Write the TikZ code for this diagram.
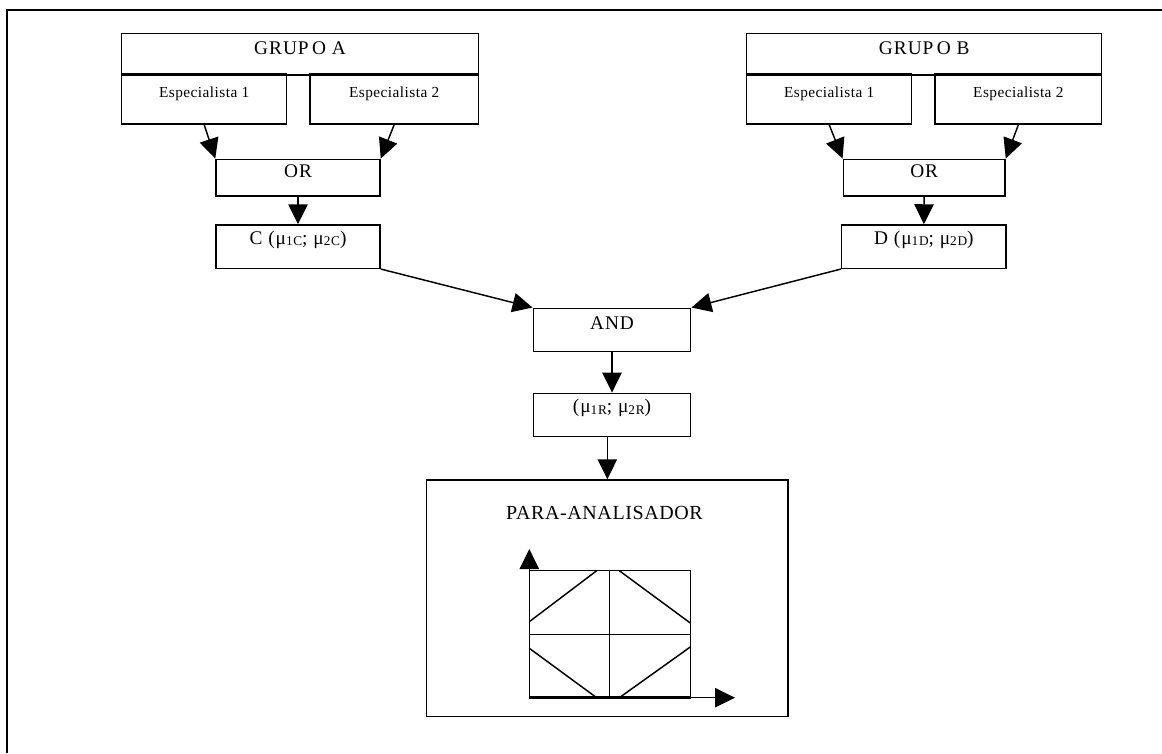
\documentclass[tikz,border=0pt]{standalone}
\usepackage{fontspec}
\setmainfont{Liberation Serif}[LetterSpace=5]
\newfontfamily\smallfont{Liberation Serif}[LetterSpace=3]
\newfontfamily\titlefont{Liberation Serif}[LetterSpace=3]
\usetikzlibrary{arrows.meta,fit}
\newcommand{\mysub}[1]{{\fontsize{10pt}{10pt}\selectfont\raisebox{-1pt}{#1}}}
\tikzset{
  box/.style={draw, line width=1.1pt, inner sep=0pt},
  big/.style={font=\fontsize{14.5pt}{16pt}\selectfont, text height=9.5pt, text depth=0pt},
  small/.style={font=\smallfont\fontsize{11.5pt}{12pt}\selectfont, text height=7.5pt, text depth=0pt},
  arr/.style={-{Triangle[length=15pt,width=14.5pt]}, line width=1.1pt},
}
\begin{document}
\begin{tikzpicture}[x=0.75pt,y=-0.75pt]
\useasboundingbox (0,0) rectangle (1162,753);
% outer frame (only top and left edges visible)
\draw[line width=1.3pt] (7,753) -- (7,10) -- (1162,10);

% Group A
\node[box,big,fit={(121.7,33.3)(478.3,75)}] (gA) {GRUP\kern2.5pt O A};
\node[box,small,fit={(121.7,74)(286.7,124)}] (a1) {Especialista 1};
\node[box,small,fit={(310,74)(478.3,124)}] (a2) {Especialista 2};
\node[box,big,fit={(216,159.3)(380,196)}] (orA) {OR};
\node[box,big,fit={(216,225)(380,268.3)}] (cA) {C (μ\mysub{1C}; μ\mysub{2C})};

% Group B
\node[box,big,fit={(746.7,33.3)(1101.7,75)}] (gB) {GRUP\kern2.5pt O B};
\node[box,small,fit={(746.7,74)(911.7,124)}] (b1) {Especialista 1};
\node[box,small,fit={(935,74)(1101.7,124)}] (b2) {Especialista 2};
\node[box,big,fit={(843.3,159.3)(1005,196)}] (orB) {OR};
\node[box,big,fit={(841.7,225)(1006,268.3)}] (dB) {D (μ\mysub{1D}; μ\mysub{2D})};

% AND and result
\node[box,big,fit={(533.3,308.3)(690.7,351.7)}] (and) {AND};
\node[box,big,fit={(533.3,393.3)(690.7,436.7)}] (res) {(μ\mysub{1R}; μ\mysub{2R})};

% Para-analisador
\node[box,fit={(426.7,480)(788,716.7)}] (para) {};
\node[font=\titlefont\fontsize{15pt}{17pt}\selectfont, inner sep=0pt, text height=9.8pt, text depth=0pt] (ptitle) at (604.5,512.7) {PARA-ANALISADOR};

% connectors
\draw[arr] (a1.south) -- (orA.north west);
\draw[arr] (a2.south) -- (orA.north east);
\draw[arr] (orA.south) -- (cA.north);
\draw[arr] (b1.south) -- (orB.north west);
\draw[arr] (b2.south) -- (orB.north east);
\draw[arr] (orB.south) -- (dB.north);
\draw[arr] (cA.south east) -- (and.north west);
\draw[arr] (dB.south west) -- (and.north east);
\draw[arr] (and.south) -- (res.north);
\draw[arr] ([xshift=-3.5pt]res.south) -- ([xshift=-3.5pt]res.south |- para.north);

% lattice diagram
\coordinate (o) at (529.3,697.7);
\draw[line width=1.1pt] (529.3,570.7) rectangle (690.7,697.7);
\draw[line width=1.1pt] (609.3,570.7) -- (609.3,697.7);
\draw[line width=1.1pt] (529.3,634.3) -- (690.7,634.3);
\draw[line width=1.1pt] (529.3,621.7) -- (596.7,570.7);
\draw[line width=1.1pt] (619.3,570.7) -- (690.7,623.3);
\draw[line width=1.1pt] (529.3,648.3) -- (596.7,697.7);
\draw[line width=1.1pt] (619.3,697.7) -- (690.7,646.7);
\draw[line width=2.2pt] (529.3,697.7) -- (690.7,697.7);
\coordinate (ytip) at (529.3,549);
\coordinate (xtip) at (735,697.7);
\draw[arr] (o) -- (ytip);
\draw[arr] (o) -- (xtip);
\end{tikzpicture}
\end{document}
